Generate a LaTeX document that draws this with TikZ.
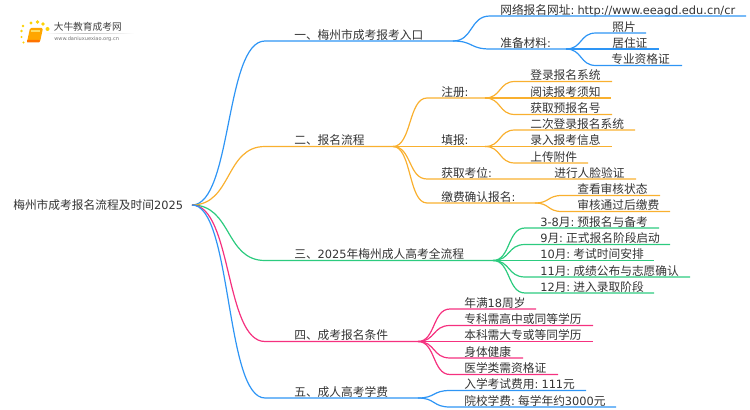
\documentclass[tikz,border=0pt]{standalone}
\usepackage{fontspec}
\setmainfont[Scale=0.97,WordSpace=0.5]{DejaVu Sans}
\newfontfamily\cjk{Noto Sans CJK SC}
\newcommand{\lat}[1]{{\rmfamily #1}}
\usetikzlibrary{fadings,calc}
\definecolor{linkblue}{HTML}{2E95F5}
\definecolor{linkorange}{HTML}{F9B02F}
\definecolor{linkgreen}{HTML}{2CCB7F}
\definecolor{linkpink}{HTML}{F5317F}
\definecolor{inktext}{HTML}{333333}
\tikzset{%
	topic/.style={
		anchor=south west,
		inner xsep=0pt,
		inner ysep=0pt,
		text=inktext,
		text depth=1pt,
		font=\fontsize{8.8pt}{10pt}\cjk
	},
	link/.style={
		line width=0.9pt
	},
	swoop/.style={
		to path={
			let \p1=(\tikztostart), \p2=(\tikztotarget), \n1={(\x2-\x1)*0.55} in
			.. controls (\x1+\n1,\y1) and (\x2-\n1,\y2) .. (\tikztotarget)
		}
	},
	dot/.style={
		circle,
		fill=#1,
		draw=none,
		inner sep=0pt,
		minimum size=3pt
	},
}
\begin{document}
\begin{tikzpicture}[x=0.75pt,y=-0.75pt]
	\useasboundingbox (0,0) rectangle (750,410);

	% logo
	\fill[rounded corners=1pt,orange!70!yellow] (30,28) -- (43,28) -- (40,42) -- (27,42) -- cycle;
	\fill[rounded corners=0.5pt,orange!90!red] (27,40) -- (40,40) -- (39.5,42.5) -- (27,42.5) -- cycle;
	\fill[yellow!60!orange!60] (31,30) rectangle (39.5,32);
	\foreach \px/\py/\ps/\pn in {23/26/2.2/a,31/23/2.6/b,37.5/22/2.8/c,43/24/2.8/d,47.5/29/3/e,21.5/31/2/f,21.5/37/1.8/g,23.5/42.5/1.6/h}
		\node[dot=yellow!70!orange,minimum size=\ps pt] (logodot\pn) at (\px,\py) {};
	\node[inner sep=0pt,anchor=west,text=black!75,font=\fontsize{7.3pt}{8pt}\cjk] (logoname) at (53.5,27) {大牛教育成考网};
	\node[inner sep=0pt,anchor=west,text=black!55,font=\fontsize{3.9pt}{5pt}\selectfont] (logourl) at (54,39) {www.daniuxuexiao.org.cn};
	\fill[black!25,path fading=east] (85,33) rectangle (134,33.6);
	\fill[black!25,path fading=west] (45,33) rectangle (85,33.6);

	% root
	\node[topic,anchor=west] (root) at (13,205) {梅州市成考报名流程及时间\lat{2025}};
	\coordinate (rootj) at (192,205);

	% one
	\coordinate (a) at (265,41);
	\coordinate (ae) at (453,41);
	\node[topic] (atext) at (294,41) {一、梅州市成考报考入口};
	\draw[link,linkblue] (rootj) to[swoop] (a) -- (atext.south west) -- (ae);
	\coordinate (a1) at (490,16);
	\coordinate (a1e) at (746,16);
	\node[topic] (a1text) at (500,16) {网络报名网址\lat{: http://www.eeagd.edu.cn/cr}};
	\draw[link,linkblue] (ae) to[swoop] (a1) -- (a1text.south west) -- (a1e);
	\coordinate (a2) at (490,49);
	\coordinate (a2e) at (566,49);
	\node[topic] (a2text) at (500,49) {准备材料\lat{:}};
	\draw[link,linkblue] (ae) to[swoop] (a2) -- (a2text.south west) -- (a2e);
	\foreach \k/\ty/\tx/\ex/\lab in {1/33/612/646/照片,2/49/612/659/居住证,3/65.5/611/682/专业资格证}{
		\coordinate (a2\k) at (596,\ty);
		\coordinate (a2\k e) at (\ex,\ty);
		\node[topic] (a2\k text) at (\tx,\ty) {\lab};
		\draw[link,linkblue] (a2e) to[swoop] (a2\k) -- (a2\k text.south west) -- (a2\k e);
	}

	% two
	\coordinate (b) at (265,146.5);
	\coordinate (be) at (393,146.5);
	\node[topic] (btext) at (294,146.5) {二、报名流程};
	\draw[link,linkorange] (rootj) to[swoop] (b) -- (btext.south west) -- (be);
	\coordinate (b1) at (427,98);
	\coordinate (b1e) at (485,98);
	\node[topic] (b1text) at (441,98) {注册\lat{:}};
	\draw[link,linkorange] (be) to[swoop] (b1) -- (b1text.south west) -- (b1e);
	\foreach \k/\ty/\ex/\lab in {1/81.5/612/登录报名系统,2/98/611/阅读报考须知,3/114.5/612/获取预报名号}{
		\coordinate (b1\k) at (515,\ty);
		\coordinate (b1\k e) at (\ex,\ty);
		\node[topic] (b1\k text) at (530,\ty) {\lab};
		\draw[link,linkorange] (b1e) to[swoop] (b1\k) -- (b1\k text.south west) -- (b1\k e);
	}
	\coordinate (b2) at (427,146.5);
	\coordinate (b2e) at (485,146.5);
	\node[topic] (b2text) at (441,146.5) {填报\lat{:}};
	\draw[link,linkorange] (be) to[swoop] (b2) -- (b2text.south west) -- (b2e);
	\foreach \k/\ty/\ex/\lab in {1/130/635/二次登录报名系统,2/146.5/612/录入报考信息,3/163/588/上传附件}{
		\coordinate (b2\k) at (515,\ty);
		\coordinate (b2\k e) at (\ex,\ty);
		\node[topic] (b2\k text) at (530,\ty) {\lab};
		\draw[link,linkorange] (b2e) to[swoop] (b2\k) -- (b2\k text.south west) -- (b2\k e);
	}
	\coordinate (b3) at (427,179);
	\coordinate (b3e) at (636,179);
	\node[topic] (b3text) at (441,179) {获取考位\lat{:}};
	\node[topic] (b31text) at (554,179) {进行人脸验证};
	\draw[link,linkorange] (be) to[swoop] (b3) -- (b3text.south west) -- (b31text.south west) -- (b3e);
	\coordinate (b4) at (427,203);
	\coordinate (b4e) at (535,203);
	\node[topic] (b4text) at (441,203) {缴费确认报名\lat{:}};
	\draw[link,linkorange] (be) to[swoop] (b4) -- (b4text.south west) -- (b4e);
	\foreach \k/\ty/\ex/\lab in {1/195.5/660/查看审核状态,2/211.5/670/审核通过后缴费}{
		\coordinate (b4\k) at (562,\ty);
		\coordinate (b4\k e) at (\ex,\ty);
		\node[topic] (b4\k text) at (577,\ty) {\lab};
		\draw[link,linkorange] (b4e) to[swoop] (b4\k) -- (b4\k text.south west) -- (b4\k e);
	}

	% three
	\coordinate (c) at (265,260.5);
	\coordinate (ce) at (493,260.5);
	\node[topic] (ctext) at (294,260.5) {三、\lat{2025}年梅州成人高考全流程};
	\draw[link,linkgreen] (rootj) to[swoop] (c) -- (ctext.south west) -- (ce);
	\foreach \k/\ty/\ex/\lab in {1/228/659/\lat{3-8}月\lat{: }预报名与备考,2/244.5/670/\lat{9}月\lat{: }正式报名阶段启动,3/260.5/654/\lat{10}月\lat{: }考试时间安排,4/277/690/\lat{11}月\lat{: }成绩公布与志愿确认,5/293/654/\lat{12}月\lat{: }进入录取阶段}{
		\coordinate (c\k) at (525,\ty);
		\coordinate (c\k e) at (\ex,\ty);
		\node[topic] (c\k text) at (540,\ty) {\lab};
		\draw[link,linkgreen] (ce) to[swoop] (c\k) -- (c\k text.south west) -- (c\k e);
	}

	% four
	\coordinate (d) at (265,341.5);
	\coordinate (de) at (418,341.5);
	\node[topic] (dtext) at (294,341.5) {四、成考报名条件};
	\draw[link,linkpink] (rootj) to[swoop] (d) -- (dtext.south west) -- (de);
	\foreach \k/\ty/\ex/\lab in {1/309/536/年满\lat{18}周岁,2/325.5/593/专科需高中或同等学历,3/341.5/593/本科需大专或等同学历,4/358/523/身体健康,5/374.5/558/医学类需资格证}{
		\coordinate (d\k) at (450,\ty);
		\coordinate (d\k e) at (\ex,\ty);
		\node[topic] (d\k text) at (464,\ty) {\lab};
		\draw[link,linkpink] (de) to[swoop] (d\k) -- (d\k text.south west) -- (d\k e);
	}

	% five
	\coordinate (f) at (265,398);
	\coordinate (fe) at (418,398);
	\node[topic] (ftext) at (294,398) {五、成人高考学费};
	\draw[link,linkblue] (rootj) to[swoop] (f) -- (ftext.south west) -- (fe);
	\foreach \k/\ty/\ex/\lab in {1/390.5/586/入学考试费用\lat{: 111}元,2/407/616/院校学费\lat{: }每学年约\lat{3000}元}{
		\coordinate (f\k) at (450,\ty);
		\coordinate (f\k e) at (\ex,\ty);
		\node[topic] (f\k text) at (464,\ty) {\lab};
		\draw[link,linkblue] (fe) to[swoop] (f\k) -- (f\k text.south west) -- (f\k e);
	}
\end{tikzpicture}
\end{document}
